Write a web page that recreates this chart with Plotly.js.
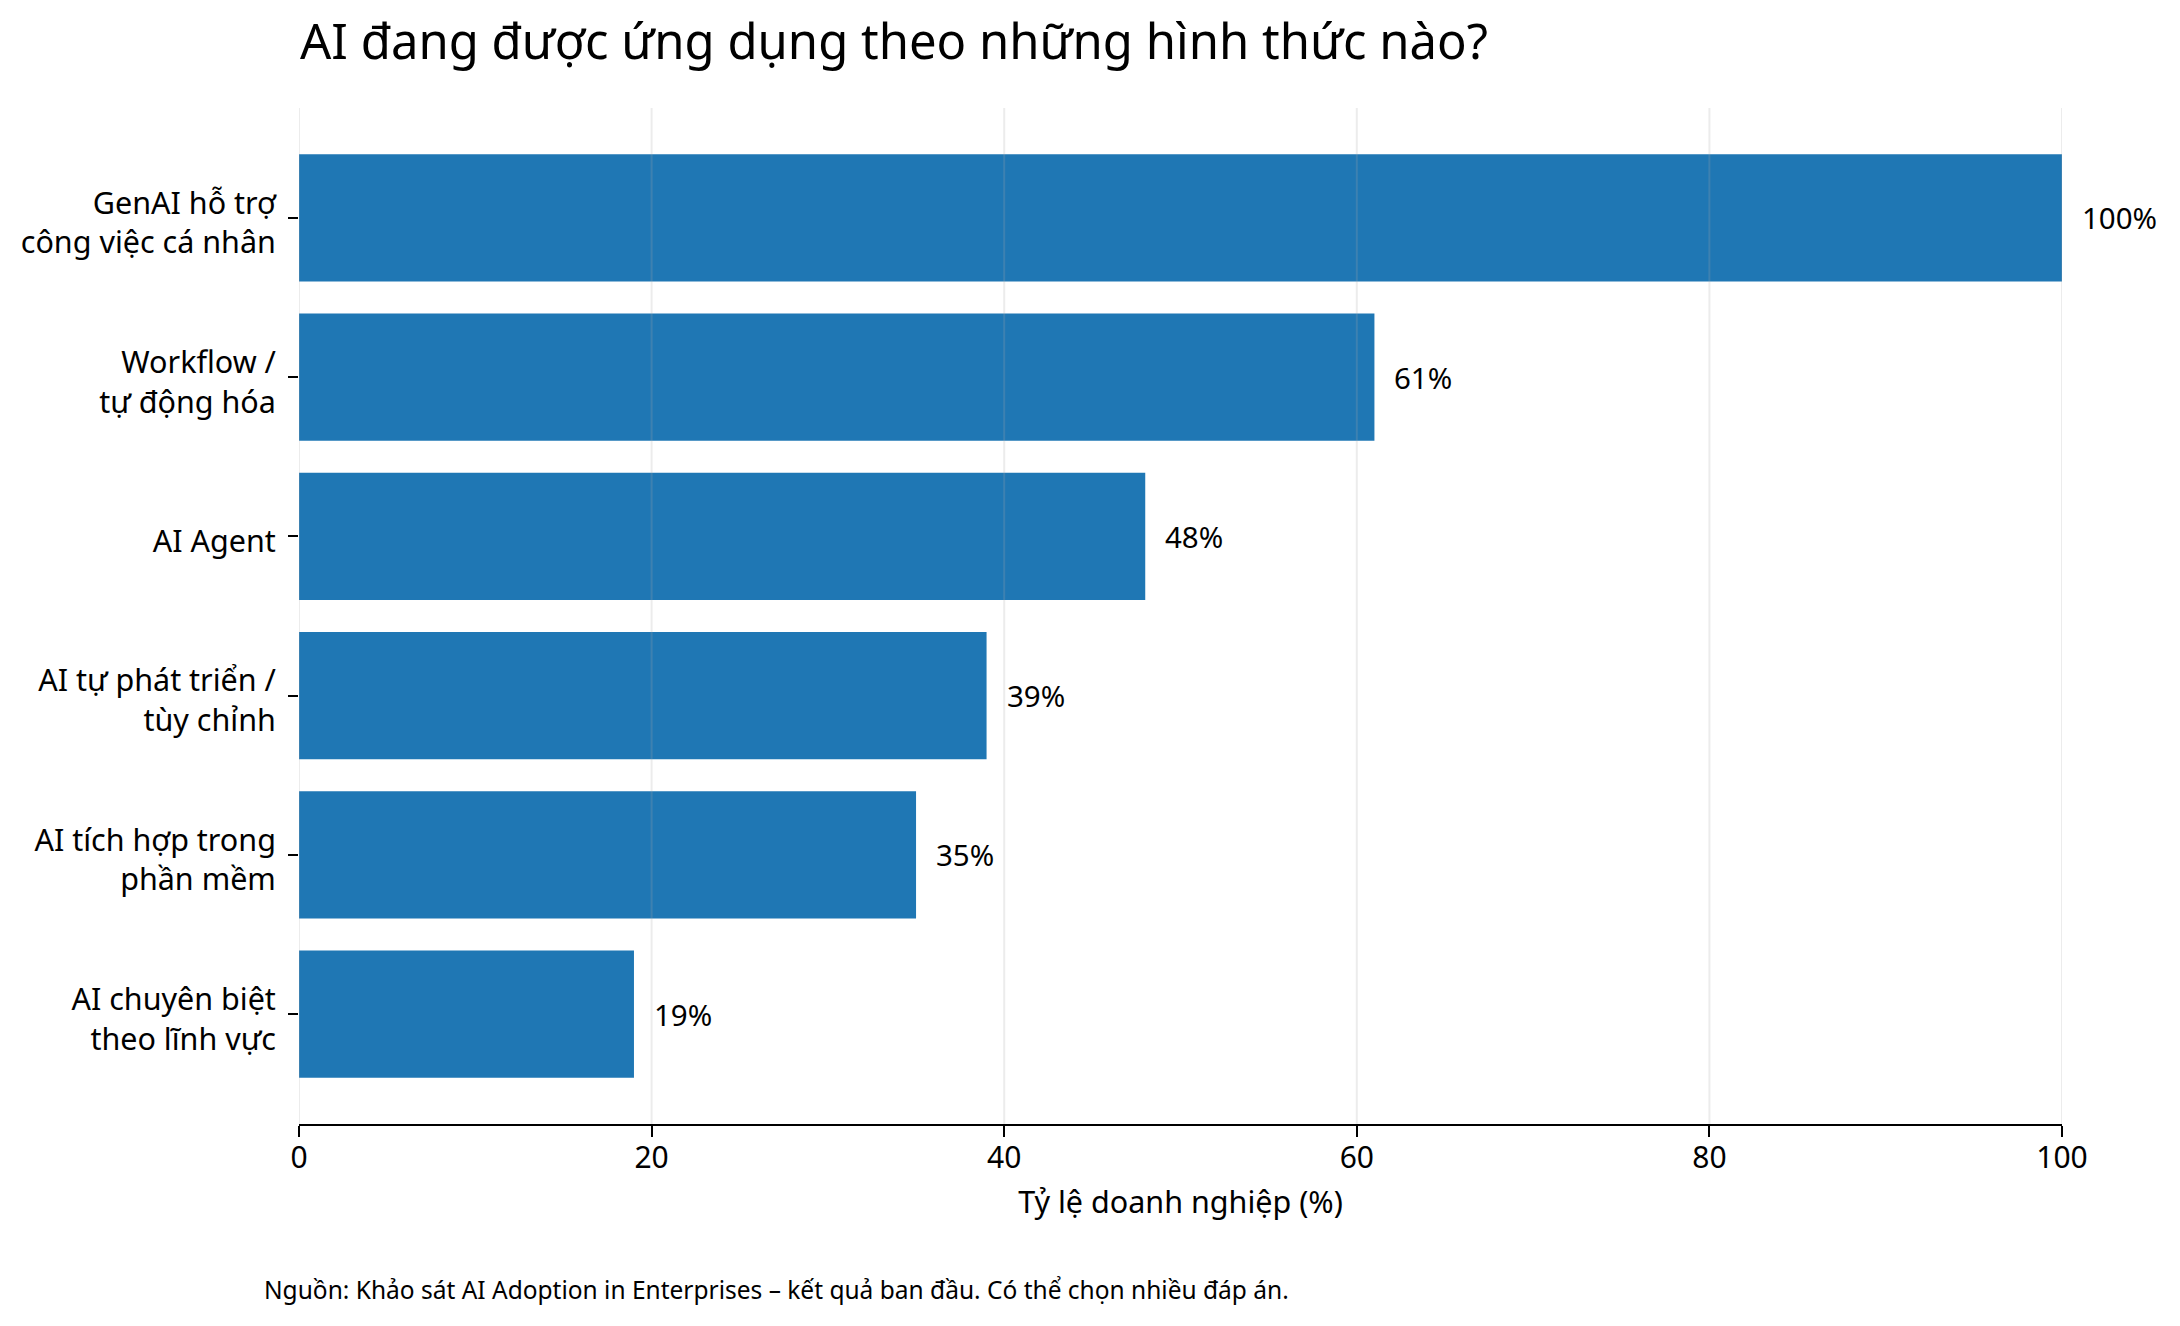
<!DOCTYPE html>
<html>
<head>
<meta charset="utf-8">
<script src="https://cdn.plot.ly/plotly-3.0.1.min.js"></script>
<style>
  html, body { margin: 0; padding: 0; background: #fff; }
  #chart { width: 2180px; height: 1326px; }
</style>
</head>
<body>
<div id="chart"></div>
<script>
// data
const categories = [
  "GenAI hỗ trợ<br>công việc cá nhân",
  "Workflow /<br>tự động hóa",
  "AI Agent",
  "AI tự phát triển /<br>tùy chỉnh",
  "AI tích hợp trong<br>phần mềm",
  "AI chuyên biệt<br>theo lĩnh vực"
];
const shares = [100, 61, 48, 39, 35, 19];
const xTicks = [0, 20, 40, 60, 80, 100];

const chartTitle = "AI đang được ứng dụng theo những hình thức nào?";
const xTitle = "Tỷ lệ doanh nghiệp (%)";
const footNote = "Nguồn: Khảo sát AI Adoption in Enterprises – kết quả ban đầu. Có thể chọn nhiều đáp án.";

const FONT = "Noto Sans, DejaVu Sans, sans-serif";
const plot_div = document.getElementById("chart");

let bars = {
  type: "bar",
  orientation: "h",
  x: shares,
  y: categories,
  marker: { color: "#1f77b4" },
  width: 0.8,
  hoverinfo: "x+y"
};

// value labels to the right of each bar
let labels = shares.map((v, i) => ({
  x: v, y: categories[i],
  xref: "x", yref: "y",
  text: v + "%",
  showarrow: false,
  xanchor: "left", yanchor: "middle",
  xshift: 18,
  font: { family: FONT, size: 29.5, color: "#000" }
}));

labels.push({
  x: -0.021, y: -0.163, xref: "paper", yref: "paper",
  text: footNote, showarrow: false,
  xanchor: "left", yanchor: "middle",
  font: { family: FONT, size: 24.5, color: "#000" }
});

// grid lines sit above the bars, faint
let grid = xTicks.map(t => ({
  type: "line", layer: "above",
  xref: "x", yref: "paper",
  x0: t, x1: t, y0: 0, y1: 1,
  line: { color: "rgba(170,170,170,0.22)", width: 2 }
}));

let layout = {
  width: 2180,
  height: 1326,
  margin: { l: 299, r: 118, t: 108, b: 202 },
  paper_bgcolor: "#fff",
  plot_bgcolor: "#fff",
  showlegend: false,
  font: { family: FONT, size: 30, color: "#000" },
  title: {
    text: chartTitle,
    font: { family: FONT, size: 49, color: "#000" },
    xref: "container", yref: "container",
    x: 300 / 2180, xanchor: "left",
    y: 1 - 42 / 1326, yanchor: "middle"
  },
  xaxis: {
    range: [0, 100],
    tickvals: xTicks,
    ticktext: xTicks.map(String),
    showgrid: false,
    zeroline: false,
    showline: true,
    linecolor: "#000",
    linewidth: 2,
    ticks: "outside",
    ticklen: 11,
    tickwidth: 2,
    tickcolor: "#000",
    ticklabelstandoff: -5,
    tickfont: { family: FONT, size: 30, color: "#000" },
    title: { text: xTitle, font: { family: FONT, size: 30.5, color: "#000" }, standoff: 16 },
    fixedrange: true
  },
  yaxis: {
    type: "category",
    categoryorder: "array",
    categoryarray: categories,
    range: [5.69, -0.69],
    showgrid: false,
    zeroline: false,
    showline: false,
    ticks: "outside",
    ticklen: 10,
    tickwidth: 2,
    tickcolor: "#000",
    ticklabelstandoff: 6,
    ticklabelshift: -5,
    tickfont: { family: FONT, size: 30.5, color: "#000" },
    fixedrange: true
  },
  annotations: labels,
  shapes: grid
};

Plotly.newPlot(plot_div, [bars], layout, { displayModeBar: false, responsive: false });
</script>
</body>
</html>
